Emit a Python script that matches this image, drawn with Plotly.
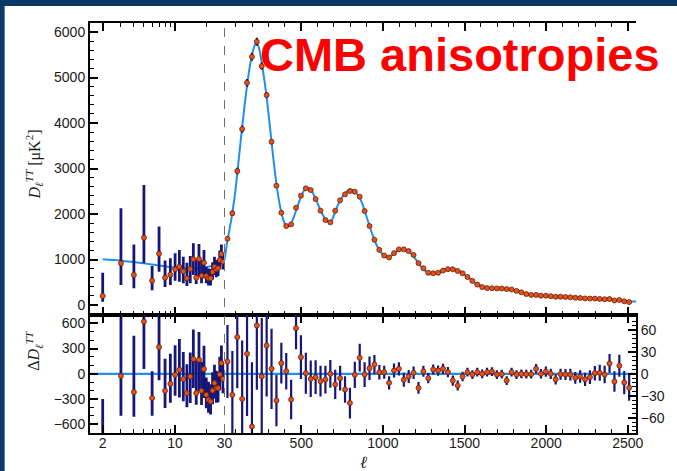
import math
import plotly.graph_objects as go

# ---------------- data ----------------
# low-multipole spectrum (individual multipoles, log-scaled part of the axis)
ell_lo = [2, 3, 4, 5, 6, 7, 8, 9, 10, 11, 12, 13, 14, 15, 16, 17, 18, 19, 20,
          21, 22, 23, 24, 25, 26, 27, 28, 29]
D_lo = [200, 916, 659, 1480, 535, 1128, 601, 667, 784, 842, 740, 586, 791, 1004,
        601, 1011, 645, 930, 637, 586, 586, 725, 842, 784, 810, 989, 1121, 952]
err_lo_minus = [127, 476, 293, 564, 210, 395, 205, 227, 249, 329, 264, 169, 315, 345,
                139, 374, 169, 344, 161, 156, 156, 165, 182, 174, 170, 189, 201, 172]
err_lo_plus = [510, 1209, 670, 1157, 320, 600, 380, 359, 352, 367, 322, 344, 286, 351,
               388, 330, 344, 279, 205, 214, 204, 215, 218, 206, 190, 211, 209, 198]
res_lo = [-810, -24, -218, 622, -289, 318, -202, -119, -12, 48, -63, -230, -32, 175,
          -230, 167, -202, 56, -250, -309, -329, -198, -111, -170, -170, -8, 127, -60]

# binned high-multipole spectrum (bins of 30)
ell_hi = [48, 78, 108, 138, 168, 198, 228, 258, 288, 318, 348, 378, 408, 438, 468,
          498, 528, 558, 588, 618, 648, 678, 708, 738, 768, 798, 828, 858, 888, 918,
          948, 978, 1008, 1038, 1068, 1098, 1128, 1158, 1188, 1218, 1248, 1278, 1308,
          1338, 1368, 1398, 1428, 1458, 1488, 1518, 1548, 1578, 1608, 1638, 1668, 1698,
          1728, 1758, 1788, 1818, 1848, 1878, 1908, 1938, 1968, 1998, 2028, 2058, 2088,
          2118, 2148, 2178, 2208, 2238, 2268, 2298, 2328, 2358, 2388, 2418, 2448, 2478,
          2508]
D_hi = [1458, 2015, 2945, 3868, 4886, 5457, 5787, 5250, 4615, 3590, 2623, 2029, 1736,
        1773, 2139, 2403, 2565, 2527, 2330, 2073, 1868, 1817, 2073, 2301, 2433, 2505,
        2491, 2381, 2066, 1736, 1433, 1212, 1087, 1046, 1140, 1222, 1223, 1185, 1100,
        920, 808, 708, 698, 708, 756, 787, 784, 747, 696, 615, 530, 450, 393, 372, 368,
        365, 363, 350, 340, 310, 278, 240, 222, 222, 206, 203, 194, 181, 182, 175, 169,
        159, 154, 144, 142, 141, 134, 126, 132, 99, 111, 80, 64]
err_hi = [50, 60, 70, 80, 85, 88, 88, 80, 70, 55, 35, 28, 25, 27, 29, 30, 28, 25, 23,
          21, 19, 19, 20, 17, 18, 21, 18, 19, 17, 16, 13, 10, 9, 9, 9.5, 9, 9.5, 9, 8.5,
          8, 7.5, 7, 7, 7, 7, 7, 7, 7, 6.5, 6, 6, 6, 6, 6, 6, 6, 6, 6, 6, 6, 6, 6, 6, 6.5,
          6.5, 7, 7, 7, 7.5, 7.5, 8, 8, 8.5, 9, 9.5, 10, 11, 12, 13, 14, 15, 16, 18]
res_hi = [16.8, -28.8, 50.2, -34.3, 27.4, -72.2, 66.2, -3.7, 38.8, 6.8, -36.6, 14.6,
          3.6, -35.2, 62.5, 22.8, 0.8, -6.9, -4.6, -10.1, -7.8, 0, -14.6, -6, -21.5,
          -40, -1.4, 22, -1, 7.7, 12.7, 2.2, 2.2, -12.3, 4.5, 6.8, -8.2, -3.7, 1.4,
          -19.2, 3.6, -6, 5.9, 4.5, 6.8, 2.2, -9.2, -16, -3.7, 2.2, -1, 2.2, 0, 2.2, 3,
          -1, -0.5, -9.2, 2.2, -1, 0, -0.5, -0.5, 6.8, 0, 3, 0, -7.6, -0.5, -1, -1,
          -5.5, -3.7, -7.6, -4.6, 0.8, 1.4, -1, 14.2, -10.6, 11, -12, -19]

# best-fit model curve
ell_model_lo = [2, 3, 4, 5, 6, 8, 10, 13, 16, 20, 24, 27, 30]
D_model_lo = [1005, 975, 945, 915, 890, 850, 822, 805, 805, 830, 872, 915, 990]
ell_model_hi = [30, 40, 50, 60, 70, 80, 90, 100, 110, 120, 130, 140, 150, 160, 170,
                180, 190, 200, 210, 220, 230, 240, 250, 260, 270, 280, 290, 300, 310,
                320, 330, 340, 350, 360, 370, 380, 390, 400, 410, 420, 430, 440, 450,
                460, 470, 480, 490, 500, 510, 520, 530, 540, 550, 560, 570, 580, 590,
                600, 610, 620, 630, 640, 650, 660, 670, 680, 690, 700, 710, 720, 730,
                740, 750, 760, 770, 780, 790, 800, 810, 820, 830, 840, 850, 860, 870,
                880, 890, 900, 910, 920, 930, 940, 950, 960, 970, 980, 990, 1000, 1010,
                1020, 1030, 1040, 1050, 1060, 1070, 1080, 1090, 1100, 1110, 1120, 1130,
                1140, 1150, 1160, 1170, 1180, 1190, 1200, 1210, 1220, 1230, 1240, 1250,
                1260, 1270, 1280, 1290, 1300, 1320, 1340, 1360, 1380, 1400, 1420, 1440,
                1460, 1480, 1500, 1520, 1540, 1560, 1580, 1600, 1620, 1640, 1660, 1680,
                1700, 1720, 1740, 1760, 1780, 1800, 1820, 1840, 1860, 1880, 1900, 1950,
                2000, 2050, 2100, 2150, 2200, 2250, 2300, 2350, 2400, 2450, 2500, 2550]
D_model_hi = [990, 1230, 1460, 1650, 1850, 2080, 2330, 2620, 2950, 3300, 3640, 3970,
              4290, 4600, 4880, 5130, 5350, 5530, 5660, 5740, 5740, 5660, 5500, 5280,
              5040, 4790, 4510, 4190, 3860, 3520, 3190, 2890, 2610, 2370, 2170, 2000,
              1870, 1780, 1730, 1730, 1765, 1815, 1890, 1990, 2095, 2200, 2300, 2395,
              2470, 2530, 2565, 2575, 2560, 2525, 2470, 2400, 2320, 2235, 2150, 2070,
              2000, 1930, 1870, 1840, 1825, 1825, 1880, 1975, 2070, 2160, 2240, 2310,
              2370, 2420, 2460, 2500, 2525, 2540, 2530, 2510, 2485, 2450, 2400, 2340,
              2260, 2160, 2050, 1940, 1830, 1720, 1610, 1510, 1420, 1330, 1260, 1200,
              1150, 1110, 1080, 1060, 1050, 1060, 1080, 1110, 1140, 1170, 1200, 1220,
              1230, 1235, 1230, 1220, 1200, 1175, 1140, 1100, 1060, 1010, 960, 910, 860,
              820, 780, 750, 720, 700, 690, 685, 690, 710, 740, 770, 790, 795, 785, 760,
              720, 670, 615, 560, 500, 455, 415, 390, 375, 368, 365, 365, 363, 358, 350,
              340, 325, 305, 285, 265, 245, 230, 210, 200, 190, 180, 170, 160, 150, 140,
              128, 115, 100, 85, 75]

# axis ticks
y_top_ticks = [0, 1000, 2000, 3000, 4000, 5000, 6000]
y_res_left_ticks = [-600, -300, 0, 300, 600]
y_res_right_ticks = [-60, -30, 0, 30, 60]
x_log_ticks = [2, 10, 30]
x_log_minor = [3, 4, 5, 6, 7, 8, 9, 20]
x_lin_ticks = [500, 1000, 1500, 2000, 2500]

# ---------------- styling ----------------
CURVE = "#1f8ff0"
BAR = "#16167a"
DOT = "#e4521c"
DOT_EDGE = "#6a1e08"
NAVY = "#0b3967"
SPLIT = 135.5 / 550          # log part / linear part boundary (ell = 30)
YSPLIT = 0.2878              # residual panel / spectrum panel boundary
ELL_MIN, ELL_MAX = 1.508, 2550

fig = go.Figure()

# model curves
fig.add_trace(go.Scatter(x=ell_model_lo, y=D_model_lo, mode="lines",
                         line=dict(color=CURVE, width=2, shape="spline"),
                         xaxis="x", yaxis="y", hoverinfo="skip"))
fig.add_trace(go.Scatter(x=ell_model_hi, y=D_model_hi, mode="lines",
                         line=dict(color=CURVE, width=2, shape="spline"),
                         xaxis="x2", yaxis="y", hoverinfo="skip"))

marker = dict(color=DOT, size=5, line=dict(color=DOT_EDGE, width=0.8))

# data points with error bars (spectrum panel)
fig.add_trace(go.Scatter(x=ell_lo, y=D_lo, mode="markers", marker=marker,
                         error_y=dict(type="data", array=err_lo_plus,
                                      arrayminus=err_lo_minus, color=BAR,
                                      thickness=2.8, width=0),
                         xaxis="x", yaxis="y"))
fig.add_trace(go.Scatter(x=ell_hi, y=D_hi, mode="markers", marker=marker,
                         error_y=dict(type="data", array=err_hi, color=BAR,
                                      thickness=2.2, width=0),
                         xaxis="x2", yaxis="y"))

# zero line of the residual panel
fig.add_trace(go.Scatter(x=[ELL_MIN, 30], y=[0, 0], mode="lines",
                         line=dict(color=CURVE, width=2.2), xaxis="x3", yaxis="y3"))
fig.add_trace(go.Scatter(x=[30, ELL_MAX], y=[0, 0], mode="lines",
                         line=dict(color=CURVE, width=2.2), xaxis="x4", yaxis="y4"))

# residuals
fig.add_trace(go.Scatter(x=ell_lo, y=res_lo, mode="markers", marker=marker,
                         error_y=dict(type="data", array=err_lo_plus,
                                      arrayminus=err_lo_minus, color=BAR,
                                      thickness=2.8, width=0),
                         xaxis="x3", yaxis="y3"))
fig.add_trace(go.Scatter(x=ell_hi, y=res_hi, mode="markers", marker=marker,
                         error_y=dict(type="data", array=err_hi, color=BAR,
                                      thickness=2.2, width=0),
                         xaxis="x4", yaxis="y4"))

tickfont = dict(family="Liberation Sans, Arial, sans-serif", size=14, color="#1a1a1a")
base = dict(showgrid=False, zeroline=False, showline=True, linecolor="black",
            linewidth=2, ticks="inside", ticklen=8, tickwidth=1.5, tickcolor="black",
            tickfont=tickfont)


def minor_dtick(d):
    return dict(dtick=d, ticks="inside", ticklen=4, tickwidth=1.2, tickcolor="black")


def minor_vals(v):
    return dict(tickmode="array", tickvals=v, ticks="inside", ticklen=4,
                tickwidth=1.2, tickcolor="black")


log_range = [math.log10(ELL_MIN), math.log10(30)]

fig.update_layout(
    width=677, height=471,
    margin=dict(l=90, r=37, t=23, b=38),
    paper_bgcolor="white", plot_bgcolor="white",
    showlegend=False,
    xaxis=dict(base, type="log", domain=[0, SPLIT], anchor="y", range=log_range,
               tickmode="array", tickvals=x_log_ticks, showticklabels=False,
               mirror="ticks", minor=minor_vals(x_log_minor)),
    xaxis2=dict(base, domain=[SPLIT, 1], anchor="y", range=[30, ELL_MAX],
                tickmode="array", tickvals=x_lin_ticks, showticklabels=False,
                mirror="ticks", minor=dict(minor_dtick(100), tick0=0)),
    xaxis3=dict(base, type="log", domain=[0, SPLIT], anchor="y3", range=log_range,
                tickmode="array", tickvals=x_log_ticks,
                ticktext=[str(v) for v in x_log_ticks], ticklabelstandoff=-4,
                mirror="ticks", minor=minor_vals(x_log_minor)),
    xaxis4=dict(base, domain=[SPLIT, 1], anchor="y3", range=[30, ELL_MAX],
                tickmode="array", tickvals=x_lin_ticks,
                ticktext=[str(v) for v in x_lin_ticks], ticklabelstandoff=-4,
                mirror="ticks", minor=dict(minor_dtick(100), tick0=0)),
    yaxis=dict(base, domain=[YSPLIT, 1], anchor="x", range=[-220, 6200],
               tickmode="array", tickvals=y_top_ticks,
               minor=dict(minor_dtick(200), tick0=0)),
    yaxis2=dict(base, overlaying="y", side="right", anchor="x2", range=[-220, 6200],
                tickmode="array", tickvals=y_top_ticks, showticklabels=False,
                minor=dict(minor_dtick(200), tick0=0)),
    yaxis3=dict(base, domain=[0, YSPLIT], anchor="x3", range=[-705, 700],
                tickmode="array", tickvals=y_res_left_ticks,
                minor=dict(minor_dtick(100), tick0=0)),
    yaxis4=dict(base, overlaying="y3", side="right", anchor="x4", range=[-81, 80.5],
                tickmode="array", tickvals=y_res_right_ticks,
                minor=dict(minor_dtick(6), tick0=0)),
)

# dashed marker of the log/linear switch at ell = 30
fig.add_shape(type="line", xref="paper", yref="paper", x0=SPLIT, x1=SPLIT, y0=0, y1=1,
              line=dict(color="#6e6e6e", width=1, dash="dash"))

# dark frame strips along the top and left edges of the page
fig.add_shape(type="rect", xref="paper", yref="paper", x0=-0.17, x1=1.08,
              y0=1.0415, y1=1.07, line=dict(width=0), fillcolor=NAVY)
fig.add_shape(type="rect", xref="paper", yref="paper", x0=-0.17, x1=-0.1636 + 4 / 550,
              y0=-0.11, y1=1.07, line=dict(width=0), fillcolor=NAVY)

serif = "Liberation Serif, DejaVu Serif, serif"
fig.add_annotation(xref="paper", yref="paper", x=-0.127, y=0.654, textangle=-90,
                   text="<i>D</i><sub><i>ℓ</i></sub><sup><i>TT</i></sup> [μK<sup>2</sup>]",
                   showarrow=False, font=dict(family=serif, size=16, color="#1a1a1a"))
fig.add_annotation(xref="paper", yref="paper", x=-0.127, y=0.146, textangle=-90,
                   text="Δ<i>D</i><sub><i>ℓ</i></sub><sup><i>TT</i></sup>",
                   showarrow=False, font=dict(family=serif, size=16, color="#1a1a1a"))
fig.add_annotation(xref="paper", yref="paper", x=0.5, y=-0.045, yanchor="top",
                   text="<i>ℓ</i>", showarrow=False,
                   font=dict(family=serif, size=17, color="#1a1a1a"))

fig.add_annotation(xref="paper", yref="paper", x=0.307, y=0.922, xanchor="left",
                   yanchor="middle", text="<b>CMB anisotropies</b>", showarrow=False,
                   font=dict(family="Liberation Sans, Arial, sans-serif", size=47,
                             color="#ff0000"))

fig.write_html("out.html")
